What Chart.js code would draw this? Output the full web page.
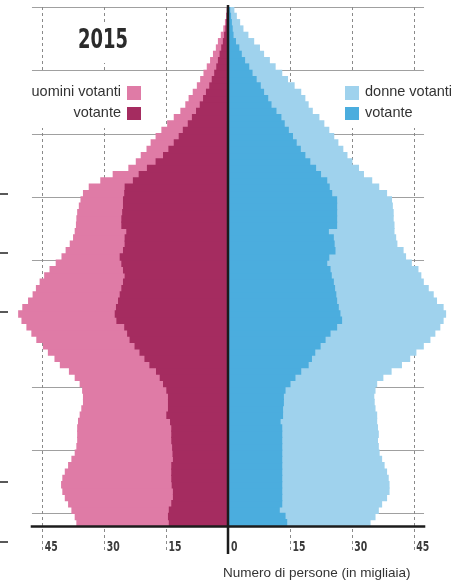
<!DOCTYPE html>
<html>
<head>
<meta charset="utf-8">
<script src="https://cdn.jsdelivr.net/npm/chart.js@4.4.1/dist/chart.umd.min.js"></script>
<style>
  html, body { margin: 0; padding: 0; background: #fff; }
  #wrap { width: 473px; height: 584px; }
</style>
</head>
<body>
<div id="wrap"><canvas id="pyramid" width="473" height="584"></canvas></div>
<script>
// one row per age, bottom (18) to top (99); values in thousands
const ages = [18, 19, 20, 21, 22, 23, 24, 25, 26, 27, 28, 29, 30, 31, 32, 33, 34, 35, 36, 37,
  38, 39, 40, 41, 42, 43, 44, 45, 46, 47, 48, 49, 50, 51, 52, 53, 54, 55, 56, 57,
  58, 59, 60, 61, 62, 63, 64, 65, 66, 67, 68, 69, 70, 71, 72, 73, 74, 75, 76, 77,
  78, 79, 80, 81, 82, 83, 84, 85, 86, 87, 88, 89, 90, 91, 92, 93, 94, 95, 96, 97, 98, 99];

const menEligible = [36.6, 37.0, 37.8, 38.6, 39.4, 40.0, 40.3, 40.0, 39.4, 38.6, 37.8, 37.0, 36.6, 36.4, 36.4, 36.4, 36.2, 35.8, 35.4, 35.0,
  35.0, 35.2, 35.8, 37.0, 38.4, 40.6, 41.9, 43.5, 44.7, 46.3, 47.5, 48.7, 49.9, 50.7, 49.7, 48.3, 47.2, 46.4, 45.5, 44.4,
  43.1, 41.6, 40.2, 39.2, 38.2, 37.4, 37.0, 36.7, 36.6, 36.4, 36.0, 35.6, 35.0, 33.6, 30.8, 27.8, 24.0, 22.2, 21.0, 19.6,
  18.6, 17.4, 16.0, 14.6, 13.0, 11.4, 10.2, 9.4, 8.4, 7.4, 6.6, 5.8, 5.0, 4.2, 3.5, 2.8, 2.3, 1.6, 1.0, 0.6, 0.3, 0.2];

const menVoted = [14.2, 14.4, 14.2, 13.6, 13.2, 13.2, 13.5, 13.6, 13.6, 13.6, 13.2, 13.3, 13.4, 13.6, 13.6, 13.6, 13.9, 14.8, 14.4, 14.4,
  14.4, 14.8, 15.6, 16.4, 17.3, 18.9, 20.1, 21.3, 22.5, 23.7, 24.3, 25.0, 26.9, 27.3, 27.0, 26.5, 26.1, 25.7, 25.3, 24.9,
  25.3, 25.7, 26.1, 25.3, 24.9, 24.9, 24.5, 25.7, 25.7, 25.5, 25.3, 25.3, 25.0, 24.9, 22.9, 21.5, 19.5, 17.4, 15.6, 14.3,
  13.0, 11.8, 10.8, 9.6, 8.6, 7.6, 6.7, 5.9, 5.2, 4.4, 3.8, 3.2, 2.7, 2.3, 1.9, 1.5, 1.1, 0.8, 0.5, 0.3, 0.2, 0.1];

const womenEligible = [34.4, 35.6, 36.4, 37.2, 38.4, 39.0, 39.0, 38.8, 38.4, 37.8, 37.2, 36.6, 36.4, 36.2, 36.4, 36.2, 36.0, 36.0, 35.6, 35.4,
  35.3, 35.6, 36.0, 37.5, 39.5, 42.0, 44.0, 45.5, 47.3, 48.9, 50.1, 51.3, 52.1, 52.7, 52.1, 50.5, 49.7, 48.5, 47.3, 46.7,
  46.0, 44.4, 43.0, 42.4, 40.9, 40.6, 40.2, 40.2, 40.0, 40.0, 39.8, 39.6, 38.4, 36.5, 34.8, 32.8, 31.6, 30.0, 28.8, 27.8,
  26.6, 25.6, 24.4, 23.2, 22.0, 20.4, 19.4, 18.6, 17.6, 16.0, 14.4, 13.0, 11.4, 10.0, 8.6, 7.6, 6.2, 4.8, 3.6, 2.8, 2.0, 1.4];

const womenVoted = [14.2, 13.8, 12.4, 13.0, 13.0, 13.0, 13.0, 13.0, 13.0, 13.0, 13.0, 13.0, 13.0, 13.0, 13.0, 13.0, 12.6, 13.2, 13.2, 13.4,
  13.4, 13.8, 15.0, 16.2, 17.6, 19.4, 20.2, 21.0, 22.3, 23.5, 24.7, 26.3, 27.5, 27.1, 26.7, 26.3, 26.1, 25.8, 25.5, 25.0,
  24.7, 23.9, 24.4, 25.9, 25.7, 25.5, 24.3, 26.3, 26.3, 26.3, 26.3, 26.3, 25.1, 24.5, 23.9, 22.4, 21.2, 19.8, 18.6, 17.5,
  16.5, 15.6, 14.6, 13.6, 12.8, 11.6, 10.4, 9.6, 8.6, 7.8, 6.8, 5.8, 5.0, 4.0, 3.2, 2.6, 1.8, 1.2, 1.0, 0.8, 0.6, 0.4];

const gridAges = [20, 30, 40, 50, 60, 70, 80, 90, 100];
const tickValues = [-45, -30, -15, 0, 15, 30, 45];
const yearTitle = '2015';
const axisTitle = 'Numero di persone (in migliaia)';

const colors = {
  menAll: '#df7ba6',
  menVoted: '#a52c60',
  womenAll: '#9fd2ed',
  womenVoted: '#4badde'
};

const narrow = "'Liberation Sans Narrow', 'DejaVu Sans Condensed', sans-serif";
const plain = "'Liberation Sans', Arial, sans-serif";

const decor = {
  id: 'decor',
  beforeDatasetsDraw(chart) {
    const { ctx, chartArea, scales: { x, y } } = chart;
    const left = x.getPixelForValue(-47.5);
    const right = x.getPixelForValue(47.5);
    ctx.save();

    // horizontal lines every 10 years (row boundaries)
    ctx.strokeStyle = '#a0a0a0';
    ctx.lineWidth = 1;
    gridAges.forEach(a => {
      const py = Math.round(y.getPixelForValue(a - ages[0] - 0.5)) + 0.5;
      ctx.beginPath();
      ctx.moveTo(left, py);
      ctx.lineTo(right, py);
      ctx.stroke();
    });

    // dashed verticals
    ctx.strokeStyle = '#8a8a8a';
    ctx.setLineDash([3, 3]);
    tickValues.filter(v => v !== 0).forEach(v => {
      const px = Math.round(x.getPixelForValue(v)) + 0.5;
      ctx.beginPath();
      ctx.moveTo(px, chartArea.top);
      ctx.lineTo(px, chartArea.bottom + 27);
      ctx.stroke();
    });
    ctx.setLineDash([]);

    // white panels behind title and legends
    ctx.fillStyle = '#fff';
    ctx.fillRect(60, 24, 90, 39);
    ctx.fillRect(20, 73, 130, 55);
    ctx.fillRect(338, 73, 130, 55);
    ctx.restore();
  },
  afterDatasetsDraw(chart) {
    const { ctx, chartArea, scales: { x } } = chart;
    const ds = chart.data.datasets;
    const cx = x.getPixelForValue(0);
    ctx.save();

    // bottom axis line
    ctx.strokeStyle = '#1c1c1c';
    ctx.lineWidth = 2.5;
    ctx.beginPath();
    ctx.moveTo(x.getPixelForValue(-47.8), chartArea.bottom + 0.5);
    ctx.lineTo(x.getPixelForValue(47.8), chartArea.bottom + 0.5);
    ctx.stroke();

    // centre line
    ctx.beginPath();
    ctx.moveTo(cx, chartArea.top - 2);
    ctx.lineTo(cx, chartArea.bottom + 28);
    ctx.stroke();

    // tick labels, left-aligned next to their line
    ctx.fillStyle = '#3c3c3c';
    ctx.font = 'bold 14px ' + narrow;
    ctx.textBaseline = 'middle';
    ctx.textAlign = 'left';
    tickValues.forEach(v => {
      const t = String(Math.abs(v));
      ctx.fillText(t, x.getPixelForValue(v) + (v === 0 ? 3 : 2.5), chartArea.bottom + 21, t.length * 6.5);
    });

    // axis title
    ctx.fillStyle = '#333';
    ctx.font = '13.5px ' + plain;
    ctx.fillText(axisTitle, 223, 573, 212);

    // year
    ctx.fillStyle = '#2b2b2b';
    ctx.font = 'bold 27px ' + narrow;
    ctx.textAlign = 'center';
    ctx.fillText(yearTitle, 103, 41, 50);

    // legends
    ctx.font = '14.5px ' + plain;
    ctx.fillStyle = '#333';
    ctx.textAlign = 'right';
    ctx.fillText(ds[1].label, 121, 92, 93);
    ctx.fillText(ds[0].label, 121, 113);
    ctx.fillStyle = ds[1].backgroundColor; ctx.fillRect(127, 86, 14, 14);
    ctx.fillStyle = ds[0].backgroundColor; ctx.fillRect(127, 107, 14, 13);

    ctx.fillStyle = '#333';
    ctx.textAlign = 'left';
    ctx.fillText(ds[3].label, 365, 92, 93);
    ctx.fillText(ds[2].label, 365, 113);
    ctx.fillStyle = ds[3].backgroundColor; ctx.fillRect(345, 86, 14, 14);
    ctx.fillStyle = ds[2].backgroundColor; ctx.fillRect(345, 107, 14, 13);

    // small marks on the left edge
    ctx.strokeStyle = '#222';
    ctx.lineWidth = 1.5;
    [194, 253, 312, 482, 542].forEach(py => {
      ctx.beginPath();
      ctx.moveTo(0, py);
      ctx.lineTo(8, py);
      ctx.stroke();
    });
    ctx.restore();
  }
};

new Chart(document.getElementById('pyramid'), {
  type: 'bar',
  data: {
    labels: ages,
    datasets: [
      { label: 'votante', data: menVoted.map(v => -v), backgroundColor: colors.menVoted },
      { label: 'uomini votanti', data: menEligible.map(v => -v), backgroundColor: colors.menAll },
      { label: 'votante', data: womenVoted, backgroundColor: colors.womenVoted },
      { label: 'donne votanti', data: womenEligible, backgroundColor: colors.womenAll }
    ]
  },
  options: {
    indexAxis: 'y',
    responsive: false,
    animation: false,
    layout: { padding: { top: 7, bottom: 58, left: 1, right: 18 } },
    datasets: { bar: { grouped: false, barPercentage: 1, categoryPercentage: 1, borderWidth: 0, inflateAmount: 0.6 } },
    plugins: { legend: { display: false }, tooltip: { enabled: false } },
    scales: {
      x: { type: 'linear', min: -55, max: 55, display: false },
      y: { type: 'category', reverse: true, offset: true, display: false }
    }
  },
  plugins: [decor]
});
</script>
</body>
</html>
